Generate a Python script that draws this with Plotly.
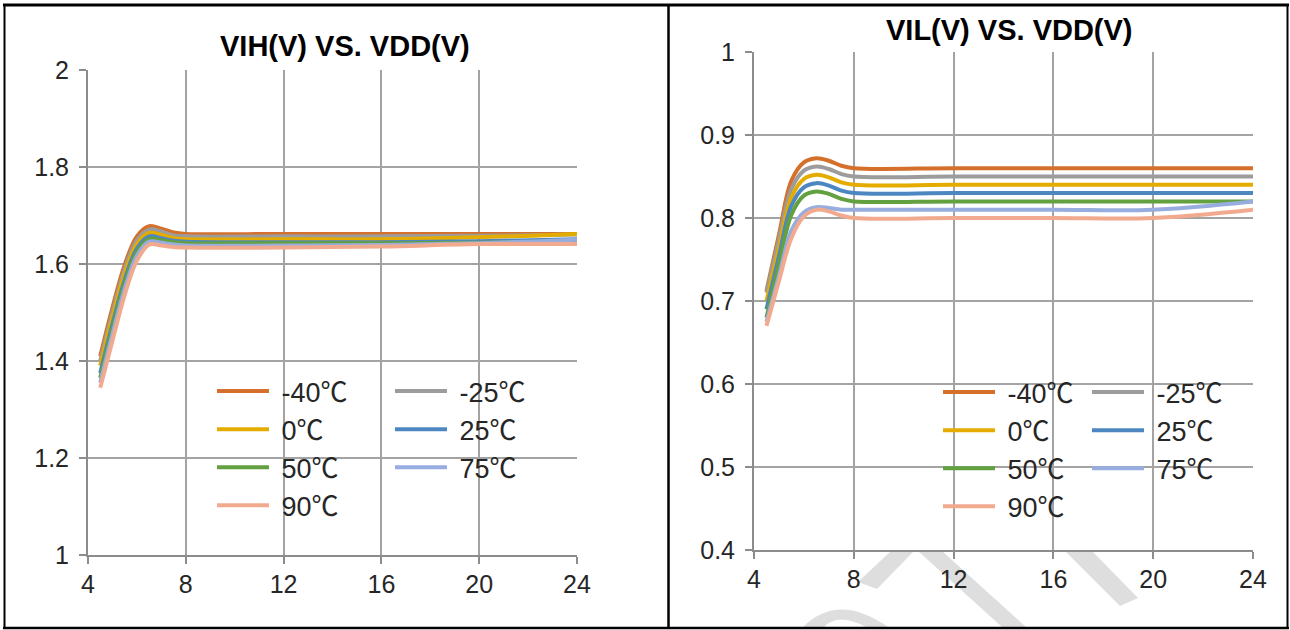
import plotly.graph_objects as go

W, H = 1290, 630

# ---------------- data ----------------
temps = ["-40℃", "-25℃", "0℃", "25℃", "50℃", "75℃", "90℃"]
colors = ["#D5702C", "#9C9C9C", "#E5AC00", "#4D87C2", "#63A040", "#98ADDF", "#F2AA8F"]

vdd = [4.5, 5, 5.5, 6, 6.5, 7, 7.5, 8, 12, 16, 20, 24]

vih_m40 = [1.410, 1.510, 1.598, 1.657, 1.678, 1.673, 1.665, 1.662, 1.662, 1.662, 1.662, 1.662]
vih_m25 = [1.400, 1.500, 1.589, 1.649, 1.671, 1.667, 1.659, 1.657, 1.657, 1.657, 1.658, 1.661]
vih_0 = [1.390, 1.490, 1.580, 1.641, 1.664, 1.660, 1.653, 1.651, 1.651, 1.651, 1.655, 1.662]
vih_25 = [1.375, 1.476, 1.567, 1.632, 1.657, 1.653, 1.648, 1.646, 1.645, 1.645, 1.647, 1.651]
vih_50 = [1.365, 1.466, 1.558, 1.625, 1.652, 1.649, 1.645, 1.643, 1.643, 1.643, 1.644, 1.647]
vih_75 = [1.355, 1.455, 1.548, 1.617, 1.646, 1.644, 1.640, 1.638, 1.638, 1.639, 1.643, 1.650]
vih_90 = [1.345, 1.442, 1.536, 1.607, 1.640, 1.638, 1.635, 1.634, 1.634, 1.636, 1.641, 1.641]

vil_m40 = [0.712, 0.780, 0.845, 0.867, 0.872, 0.869, 0.863, 0.860, 0.860, 0.860, 0.860, 0.860]
vil_m25 = [0.710, 0.774, 0.835, 0.857, 0.862, 0.859, 0.853, 0.850, 0.850, 0.850, 0.850, 0.850]
vil_0 = [0.700, 0.764, 0.825, 0.847, 0.852, 0.849, 0.843, 0.840, 0.840, 0.840, 0.840, 0.840]
vil_25 = [0.690, 0.754, 0.815, 0.837, 0.842, 0.839, 0.833, 0.830, 0.830, 0.830, 0.830, 0.830]
vil_50 = [0.680, 0.744, 0.804, 0.827, 0.832, 0.829, 0.823, 0.820, 0.820, 0.820, 0.820, 0.820]
vil_75 = [0.675, 0.730, 0.785, 0.807, 0.813, 0.812, 0.810, 0.810, 0.810, 0.810, 0.810, 0.820]
vil_90 = [0.670, 0.724, 0.776, 0.802, 0.810, 0.808, 0.803, 0.800, 0.800, 0.800, 0.800, 0.810]

vih_series = [vih_m40, vih_m25, vih_0, vih_25, vih_50, vih_75, vih_90]
vil_series = [vil_m40, vil_m25, vil_0, vil_25, vil_50, vil_75, vil_90]

vdd_ticks = [4, 8, 12, 16, 20, 24]
vih_ticks = [1, 1.2, 1.4, 1.6, 1.8, 2]
vil_ticks = [0.4, 0.5, 0.6, 0.7, 0.8, 0.9, 1]

title_left = "VIH(V) VS. VDD(V)"
title_right = "VIL(V) VS. VDD(V)"

# ---------------- helpers ----------------
def px(x):
    return x / W

def py(y):
    return 1 - y / H

FONT = "Liberation Sans, Arial, Noto Sans CJK SC, sans-serif"
TICKFONT = dict(family=FONT, size=25, color="#262626")
LEGFONT = dict(family=FONT, size=27, color="#262626")
LEG_PAD = "\u00a0"  # small gap between legend line and its label, as in the original

fig = go.Figure()

# left chart legends: col1 -> legend, col2 -> legend2 ; right chart: legend3, legend4
left_leg = ["legend", "legend2", "legend", "legend2", "legend", "legend2", "legend"]
right_leg = ["legend3", "legend4", "legend3", "legend4", "legend3", "legend4", "legend3"]

for name, col, ys, lg in zip(temps, colors, vih_series, left_leg):
    fig.add_trace(go.Scatter(x=vdd, y=ys, mode="lines", name=LEG_PAD + name, legend=lg,
                             line=dict(color=col, width=4, shape="spline", smoothing=1),
                             xaxis="x", yaxis="y"))
for name, col, ys, lg in zip(temps, colors, vil_series, right_leg):
    fig.add_trace(go.Scatter(x=vdd, y=ys, mode="lines", name=LEG_PAD + name, legend=lg,
                             line=dict(color=col, width=4, shape="spline", smoothing=1),
                             xaxis="x2", yaxis="y2"))

axis_common = dict(
    showgrid=True, gridcolor="#A3A3A3", gridwidth=1.5,
    showline=True, linecolor="#8C8C8C", linewidth=2,
    ticks="outside", ticklen=7, tickwidth=2, tickcolor="#8C8C8C",
    tickfont=TICKFONT, zeroline=False, tickmode="array", automargin=False,
)

fig.update_layout(
    width=W, height=H, autosize=False,
    margin=dict(l=0, r=0, t=0, b=0, pad=0, autoexpand=False),
    paper_bgcolor="white", plot_bgcolor="white",
    xaxis=dict(domain=[px(88), px(577)], range=[4, 24], tickvals=vdd_ticks,
               anchor="y", ticklabelstandoff=-1, **axis_common),
    yaxis=dict(domain=[py(555), py(70)], range=[1, 2], tickvals=vih_ticks,
               anchor="x", ticklabelstandoff=5, **axis_common),
    xaxis2=dict(domain=[px(754), px(1253)], range=[4, 24], tickvals=vdd_ticks,
                anchor="y2", ticklabelstandoff=-1, **axis_common),
    yaxis2=dict(domain=[py(550), py(52)], range=[0.4, 1], tickvals=vil_ticks,
                anchor="x2", ticklabelstandoff=5, **axis_common),
    showlegend=True,
)

leg_common = dict(font=LEGFONT, bgcolor="rgba(0,0,0,0)", borderwidth=0,
                  xanchor="left", yanchor="top", orientation="v",
                  itemwidth=52, tracegroupgap=0, traceorder="normal")
fig.update_layout(
    legend=dict(x=px(212), y=py(367), **leg_common),
    legend2=dict(x=px(390), y=py(367), **leg_common),
    legend3=dict(x=px(938), y=py(368), **leg_common),
    legend4=dict(x=px(1087), y=py(368), **leg_common),
)

# titles
fig.add_annotation(text="<b>" + title_left + "</b>", x=px(345), y=py(46), xref="paper", yref="paper",
                   showarrow=False, xanchor="center", yanchor="middle",
                   font=dict(family=FONT, size=29, color="#000000"))
fig.add_annotation(text="<b>" + title_right + "</b>", x=px(1009), y=py(30), xref="paper", yref="paper",
                   showarrow=False, xanchor="center", yanchor="middle",
                   font=dict(family=FONT, size=29, color="#000000"))

# table borders (document frame around the two charts)
def hline(y, x0, x1, w):
    fig.add_shape(type="line", xref="paper", yref="paper", x0=px(x0), x1=px(x1), y0=py(y), y1=py(y),
                  line=dict(color="black", width=w))

def vline(x, y0, y1, w):
    fig.add_shape(type="line", xref="paper", yref="paper", x0=px(x), x1=px(x), y0=py(y0), y1=py(y1),
                  line=dict(color="black", width=w))

hline(5, 3, 1289, 3)
hline(628, 3, 1289, 2.5)
vline(4.5, 4, 629, 2)
vline(668.5, 4, 629, 2.5)
vline(1287.5, 4, 629, 2)

# faint watermark fragments visible below the right plot area
def poly(points):
    s = "M " + " L ".join(f"{px(a):.5f},{py(b):.5f}" for a, b in points) + " Z"
    fig.add_shape(type="path", path=s, xref="paper", yref="paper", layer="below",
                  fillcolor="#DEDEDE", line=dict(width=0))

poly([(891, 551), (914, 551), (877, 589), (858, 582)])
poly([(918, 551), (942, 551), (1026, 627), (1002, 627)])
poly([(1065, 551), (1092, 551), (1138, 598), (1120, 606)])
fig.add_shape(type="path", xref="paper", yref="paper", layer="below", fillcolor="#DEDEDE",
              line=dict(width=0),
              path=(f"M {px(803):.5f},{py(627):.5f} Q {px(838):.5f},{py(592):.5f} {px(888):.5f},{py(627):.5f} "
                    f"L {px(866):.5f},{py(627):.5f} Q {px(838):.5f},{py(612):.5f} {px(824):.5f},{py(627):.5f} Z"))

fig.write_html("out.html", config={"responsive": False, "displayModeBar": False},
               post_script="document.body.style.margin='0';document.body.style.overflow='hidden';")
